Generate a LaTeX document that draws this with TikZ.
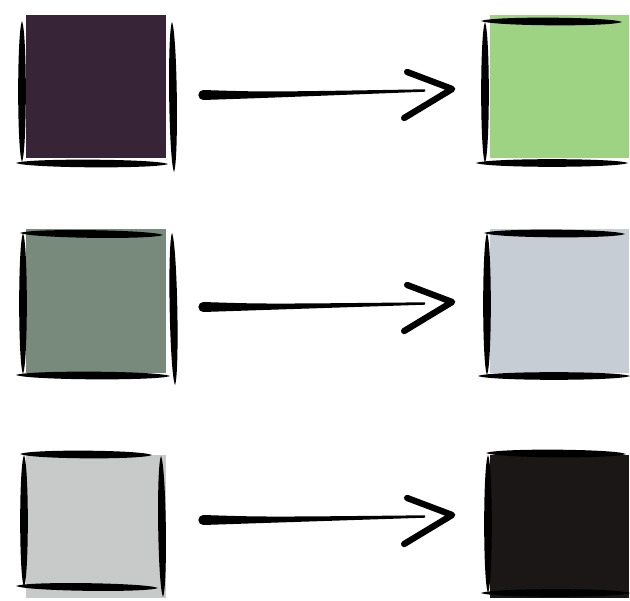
\documentclass[tikz,border=0pt]{standalone}
\usetikzlibrary{calc}

\definecolor{prugna}{HTML}{372537}
\definecolor{verdefoglia}{HTML}{9ED384}
\definecolor{salvia}{HTML}{788A7C}
\definecolor{nebbia}{HTML}{C6CDD5}
\definecolor{cenere}{HTML}{C8CAC9}
\definecolor{carbone}{HTML}{1A1716}

\tikzset{
  quadrato/.style={rectangle, inner sep=0pt, minimum width=2.8cm, minimum height=2.88cm},
  inchiostro/.style={fill=black},
  punta/.style={draw=black, line width=3.6pt, line cap=round, line join=round}
}

% pennellata: tratto pieno a larghezza quasi costante tra due punti
\newcommand{\pennellata}[2]{\fill[inchiostro] #1
  .. controls ($#1!0.08!#2!2.9pt!90:#2$) and ($#1!0.92!#2!2.9pt!90:#2$) .. #2
  .. controls ($#1!0.92!#2!2.9pt!-90:#2$) and ($#1!0.08!#2!2.9pt!-90:#2$) .. #1 -- cycle;}

\begin{document}
\begin{tikzpicture}[x=0.02cm, y=-0.02cm]

    \useasboundingbox (0,0) rectangle (630,601);
    \clip (0,0) rectangle (630,601);

    % Quadrati di partenza
    \node[quadrato, fill=prugna] (a1) at (96,86.5) {};
    \node[quadrato, fill=salvia] (a2) at (96,301) {};
    \node[quadrato, fill=cenere] (a3) at (96,526.5) {};

    % Quadrati di arrivo
    \node[quadrato, fill=verdefoglia] (b1) at (559.5,86.5) {};
    \node[quadrato, fill=nebbia] (b2) at (559.5,301) {};
    \node[quadrato, fill=carbone] (b3) at (559.5,526.5) {};

    % Bordi a pennello, riga 1
    \pennellata{(22,21)}{(22,162)}
    \pennellata{(16,163)}{(168,164)}
    \pennellata{(172,22)}{(174,172)}
    \pennellata{(481,21)}{(622,22)}
    \pennellata{(485,22)}{(485,163)}
    \pennellata{(476,163)}{(628,163)}

    % Bordi a pennello, riga 2
    \pennellata{(20,233)}{(163,235)}
    \pennellata{(23,233)}{(23,374)}
    \pennellata{(16,375)}{(170,376)}
    \pennellata{(172,233)}{(175,385)}
    \pennellata{(484,233)}{(625,234)}
    \pennellata{(487,233)}{(487,375)}
    \pennellata{(478,376)}{(630,376)}

    % Bordi a pennello, riga 3
    \pennellata{(20,454)}{(152,455)}
    \pennellata{(24,455)}{(24,587)}
    \pennellata{(16,586)}{(158,588)}
    \pennellata{(161,456)}{(163,597)}
    \pennellata{(486,453)}{(626,454)}
    \pennellata{(488,455)}{(488,593)}
    \pennellata{(481,593)}{(630,593)}

    % Frecce tra i quadrati
    \foreach \r/\da/\db in {1/8.5/2.5, 2/6/1, 3/-6.5/-11.5} {
        \coordinate (s\r) at ($(a\r.east)+(37,\da)$);
        \coordinate (t\r) at ($(b\r.west)+(-37,\db)$);
        \coordinate (e\r) at ($(t\r)+(-27,1.5)$);
        \fill (s\r) circle (5);
        \fill ($(s\r)+(0,-5)$) .. controls ($(s\r)+(60,-3)$) .. ($(e\r)+(0,-1.2)$)
            -- ($(e\r)+(0,1.2)$) .. controls ($(s\r)+(60,3)$) .. ($(s\r)+(0,5)$) -- cycle;
        \draw[punta] ($(t\r)+(-45,-17)$) -- (t\r) -- ($(t\r)+(-48,29)$);
    }

\end{tikzpicture}
\end{document}
